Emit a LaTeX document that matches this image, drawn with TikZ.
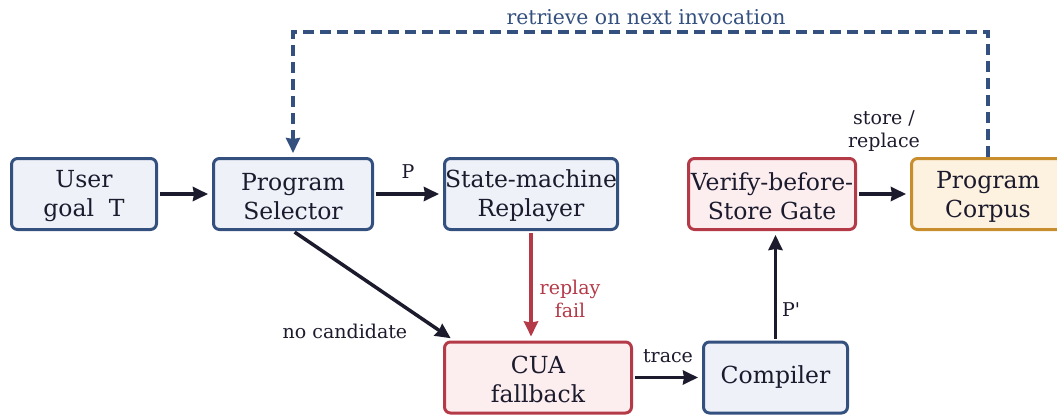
\documentclass[tikz,border=0pt]{standalone}
\usepackage{fontspec}
\setmainfont{DejaVu Serif}
\usetikzlibrary{arrows.meta,calc}
\definecolor{bluedge}{HTML}{34507F}
\definecolor{bluefill}{HTML}{EEF1F8}
\definecolor{rededge}{HTML}{B43A48}
\definecolor{redfill}{HTML}{FCEDEF}
\definecolor{orangeedge}{HTML}{C88D2C}
\definecolor{orangefill}{HTML}{FDF1DF}
\definecolor{ink}{HTML}{1B1B2D}

\begin{document}
\begin{tikzpicture}[x=1pt,y=-1pt,
  box/.style={rounded corners=6pt, line width=3pt, align=center, inner sep=0pt,
    font=\fontsize{23.5}{29}\selectfont, text=ink, minimum height=71pt},
  bluebox/.style={box, draw=bluedge, fill=bluefill},
  redbox/.style={box, draw=rededge, fill=redfill},
  orangebox/.style={box, draw=orangeedge, fill=orangefill},
  flow/.style={-{Stealth[length=15pt,width=14pt,inset=1pt]}, line width=3.5pt,
    draw=ink, shorten >=4pt, shorten <=2pt},
  lbl/.style={font=\fontsize{19}{23}\selectfont, text=ink, align=center, inner sep=0pt}
]
\useasboundingbox (0,0) rectangle (1057,417);
\clip (0,0) rectangle (1057,417);

% first-line strut nudges the box texts slightly downwards
\newcommand{\fl}{\rule{0pt}{22pt}}

% pipeline stages
\node[bluebox, minimum width=145pt] (user) at (84,194) {\fl User\\goal\ \ T};
\node[bluebox, minimum width=159pt] (sel) at (293,194) {\fl Program\\Selector};
\node[bluebox, minimum width=173pt] (rep) at (531,194) {\fl State-machine\\Replayer};
\node[redbox, minimum width=167pt] (ver) at (772,194) {\fl Verify-before-\\Store Gate};
\node[orangebox, minimum width=153pt] (corp) at (988,194) {\fl Program\\Corpus};
\node[redbox, minimum width=187pt] (cua) at (538,377.5) {\fl CUA\\fallback};
\node[bluebox, minimum width=144pt] (comp) at (775.5,377.5) {Compiler};

% connectors
\draw[flow] (user) -- (sel);
\draw[flow] (sel) -- (rep);
\draw[flow] (sel.south) -- ([xshift=11pt]cua.north west);
\draw[flow, draw=rededge] (rep.south) -- (rep.south |- cua.north);
\draw[flow] (cua) -- (comp);
\draw[flow] (comp.north) -- (comp.north |- ver.south);
\draw[flow] (ver) -- (corp);
\draw[flow, draw=bluedge, line width=3.2pt, dash pattern=on 11pt off 6pt, shorten <=0pt]
  (corp.north) -- ++(0,-125) coordinate (top) -| (sel.north);

% connector labels
\node[lbl] (lp) at (408,172) {P};
\node[lbl] (lnc) at (345,331) {no candidate};
\node[lbl, text=rededge] (lrf) at (570,299) {replay\\fail};
\node[lbl] (ltr) at (668,356) {trace};
\node[lbl] (lpp) at (791,310) {P\textquotesingle};
\node[lbl] (lsr) at (884,131) {store /\\replace};
\node[lbl, text=bluedge, font=\fontsize{20.4}{24}\selectfont] (lrt) at (646,17) {retrieve on next invocation};
\end{tikzpicture}
\end{document}
